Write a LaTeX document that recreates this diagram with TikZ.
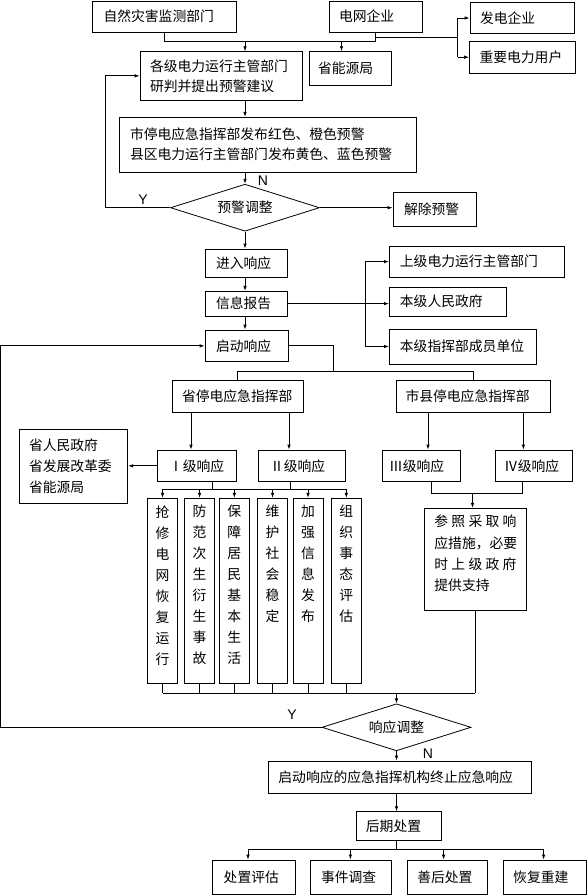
\documentclass[tikz,border=0pt]{standalone}
\usepackage{fontspec}
\setmainfont{Noto Sans CJK SC}
\newfontfamily\lat{Liberation Sans}
\usetikzlibrary{shapes.geometric,arrows.meta}
\newcommand\vtext[1]{\parbox[c][185pt][t]{30pt}{\centering\vspace*{7pt}#1}}
\begin{document}
\begin{tikzpicture}[x=1pt,y=-1pt,
  line width=0.8pt,
  bx/.style={draw, inner ysep=0pt, align=left, font=\fontsize{13.8}{20}\selectfont},
  dm/.style={draw, diamond, aspect=3.2, inner sep=0pt, minimum width=149pt, minimum height=47pt, font=\fontsize{13.8}{20}\selectfont},
  vb/.style={draw, inner sep=0pt, font=\fontsize{13.8}{21}\selectfont},
  arr/.style={-{Latex[length=5pt,width=3.5pt]}},
  yn/.style={font=\lat\fontsize{14}{14}\selectfont, inner sep=0pt}
]
\useasboundingbox (0,0) rectangle (587,895);

% ---------- nodes ----------
\node[bx, text width=121.5pt, inner xsep=11pt, minimum height=31.3pt] (nat) at (164.25,16.65) {自然灾害监测部门};
\node[bx, text width=73pt, inner xsep=10pt, minimum height=31.3pt] (grid) at (375.5,16.65) {电网企业};
\node[bx, text width=84pt, inner xsep=10pt, minimum height=30.6pt] (gen) at (522,18) {发电企业};
\node[bx, text width=86pt, inner xsep=10pt, minimum height=31.7pt] (imp) at (522.5,57.15) {重要电力用户};
\node[bx, text width=142pt, inner xsep=10pt, minimum height=48.3pt] (prov) at (221,75.85) {各级电力运行主管部门\\研判并提出预警建议};
\node[bx, text width=64pt, inner xsep=9pt, minimum height=33.6pt] (ener) at (350,68.5) {省能源局};
\node[bx, text width=275pt, inner xsep=11pt, minimum height=54.7pt] (warn) at (267.5,144.65) {市停电应急指挥部发布红色、橙色预警\\县区电力运行主管部门发布黄色、蓝色预警};
\node[dm] (dia1) at (245,207.7) {预警调整};
\node[bx, text width=61pt, inner xsep=11pt, minimum height=34.4pt] (lift) at (434.5,209.5) {解除预警};
\node[bx, text width=60.5pt, inner xsep=11pt, minimum height=28.3pt] (enter) at (246.25,263.15) {进入响应};
\node[bx, text width=60.5pt, inner xsep=11pt, minimum height=24.7pt] (info) at (246.25,303.65) {信息报告};
\node[bx, text width=61pt, inner xsep=11pt, minimum height=31.7pt] (start) at (246.5,345.85) {启动响应};
\node[bx, text width=154.2pt, inner xsep=10.5pt, minimum height=31.3pt] (sup) at (477,261.65) {上级电力运行主管部门};
\node[bx, text width=95.6pt, inner xsep=10.5pt, minimum height=28.7pt] (gov) at (447.7,301.65) {本级人民政府};
\node[bx, text width=125.6pt, inner xsep=10.5pt, minimum height=35pt] (mem) at (462.7,346.5) {本级指挥部成员单位};
\node[bx, text width=111pt, inner xsep=10pt, minimum height=32.7pt] (pcmd) at (237.5,396.35) {省停电应急指挥部};
\node[bx, text width=135pt, inner xsep=9.5pt, minimum height=32.7pt] (ccmd) at (473,396.35) {市县停电应急指挥部};
\node[bx, text width=55pt, inner xsep=12pt, minimum height=31.7pt] (L1) at (196.5,465.85) {Ⅰ级响应};
\node[bx, text width=63pt, inner xsep=12pt, minimum height=31.7pt] (L2) at (301.5,465.85) {Ⅱ级响应};
\node[bx, text width=64pt, inner xsep=7pt, minimum height=31.7pt] (L3) at (421,465.85) {Ⅲ级响应};
\node[bx, text width=59pt, inner xsep=9pt, minimum height=31.7pt] (L4) at (533.5,465.85) {Ⅳ级响应};
\node[bx, text width=89.2pt, inner xsep=9.5pt, minimum height=74.3pt, font=\fontsize{13.8}{21}\selectfont] (pgov) at (73.6,466.15) {省人民政府\\省发展改革委\\省能源局};

\node[vb] (v1) at (162.5,590.8) {\vtext{抢\\修\\电\\网\\恢\\复\\运\\行}};
\node[vb] (v2) at (199.55,590.8) {\vtext{防\\范\\次\\生\\衍\\生\\事\\故}};
\node[vb] (v3) at (234.35,590.8) {\vtext{保\\障\\居\\民\\基\\本\\生\\活}};
\node[vb] (v4) at (272.55,590.8) {\vtext{维\\护\\社\\会\\稳\\定}};
\node[vb] (v5) at (308,590.8) {\vtext{加\\强\\信\\息\\发\\布}};
\node[vb] (v6) at (346.3,590.8) {\vtext{组\\织\\事\\态\\评\\估}};

\node[vb, inner xsep=10.4pt] (ref) at (475.4,559.15) {\parbox[c][101.7pt][t]{82pt}{\fontsize{13.8}{21.3}\selectfont\vspace*{7pt}\makebox[82pt][s]{参\hfill 照\hfill 采\hfill 取\hfill 响}\\应措施，必要\\\makebox[82pt][s]{时\hfill 上\hfill 级\hfill 政\hfill 府}\\提供支持}};

\node[dm] (dia2) at (396.5,727.3) {响应调整};
\node[bx, text width=243.2pt, inner xsep=10pt, minimum height=32.3pt] (term) at (400,777.15) {启动响应的应急指挥机构终止应急响应};
\node[bx, text width=66.4pt, inner xsep=9.5pt, minimum height=29pt] (post) at (399.1,826.2) {后期处置};
\node[bx, text width=61.1pt, inner xsep=11pt, minimum height=34.3pt] (e1) at (254.25,877.15) {处置评估};
\node[bx, text width=59.2pt, inner xsep=11pt, minimum height=34.3pt] (e2) at (350.6,877.15) {事件调查};
\node[bx, text width=60.5pt, inner xsep=10pt, minimum height=34.3pt] (e3) at (447.55,877.15) {善后处置};
\node[bx, text width=62.8pt, inner xsep=10pt, minimum height=34.3pt] (e4) at (544.6,877.15) {恢复重建};

\node[yn] (n1) at (263,181) {N};
\node[yn] (y1) at (143,199.3) {Y};
\node[yn] (y2) at (292,715) {Y};
\node[yn] (n2) at (428,754) {N};

% ---------- connectors ----------
\coordinate (j1) at (245,41);
\coordinate (j2) at (341.5,41);
\draw (nat.south) -- (nat.south |- j1) -- (grid.south |- j1) -- (grid.south);
\draw[arr] (j1) -- (j1 |- prov.north);
\draw[arr] (j2) -- (j2 |- ener.north);
\coordinate (j3) at (457.5,37.7);
\draw (grid.south |- j3) -- (j3);
\draw (j3 |- gen.west) -- (j3 |- imp.west);
\draw[arr] (j3 |- gen.west) -- (gen.west);
\draw[arr] (j3 |- imp.west) -- (imp.west);

\draw[arr] (j1 |- prov.south) -- (j1 |- warn.north);
\draw[arr] (j1 |- warn.south) -- (dia1.north);
\coordinate (ly) at (105,0);
\draw[arr] (dia1.west) -- (dia1.west -| ly) |- (prov.west);
\draw[arr] (dia1.east) -- (dia1.east -| lift.west);
\draw[arr] (dia1.south) -- (dia1.south |- enter.north);
\draw[arr] (dia1.south |- enter.south) -- (dia1.south |- info.north);
\draw[arr] (dia1.south |- info.south) -- (dia1.south |- start.north);

\coordinate (ib) at (365,0);
\draw[arr] (info.east) -- (info.east -| gov.west);
\draw (ib |- sup.west) -- (ib |- mem.west);
\draw[arr] (ib |- sup.west) -- (sup.west);
\draw[arr] (ib |- mem.west) -- (mem.west);

\coordinate (sb) at (333,371);
\draw (start.east) -| (sb);
\draw (pcmd.north) -- (pcmd.north |- sb) -- (ccmd.north |- sb) -- (ccmd.north);
\coordinate (a1) at (191,0);
\coordinate (a2) at (289,0);
\coordinate (a3) at (428,0);
\coordinate (a4) at (523.4,0);
\draw[arr] (a1 |- pcmd.south) -- (a1 |- L1.north);
\draw[arr] (a2 |- pcmd.south) -- (a2 |- L2.north);
\draw[arr] (a3 |- ccmd.south) -- (a3 |- L3.north);
\draw[arr] (a4 |- ccmd.south) -- (a4 |- L4.north);
\draw[arr] (L1.west) -- (L1.west -| pgov.east);

\coordinate (b1) at (212.6,489.3);
\coordinate (b2) at (290.5,489.3);
\draw (b1 |- L1.south) -- (b1);
\draw (b2 |- L2.south) -- (b2);
\draw (v1.north |- b1) -- (v6.north |- b1);
\foreach \v in {v1,v2,v3,v4,v5,v6} {\draw[arr] (\v.north |- b1) -- (\v.north);}
\coordinate (b3) at (431.7,493.3);
\coordinate (b4) at (522,493.3);
\coordinate (b5) at (472.5,493.3);
\draw (b3 |- L3.south) -- (b3) -- (b4) -- (b4 |- L4.south);
\draw[arr] (b5) -- (b5 |- ref.north);

\coordinate (bb) at (396.5,693.3);
\foreach \v in {v1,v2,v3,v4,v5,v6} {\draw (\v.south) -- (\v.south |- bb);}
\draw (ref.south) -- (ref.south |- bb);
\draw (v1.south |- bb) -- (ref.south |- bb);
\draw[arr] (bb) -- (dia2.north);
\coordinate (lx) at (0.8,0);
\draw[arr] (dia2.west) -- (dia2.west -| lx) |- (start.west);
\draw[arr] (dia2.south) -- (dia2.south |- term.north);
\draw[arr] (dia2.south |- term.south) -- (dia2.south |- post.north);

\coordinate (pb) at (396.5,849.3);
\draw (dia2.south |- post.south) -- (pb);
\coordinate (p1) at (248,849.3);
\coordinate (p2) at (350.4,849.3);
\coordinate (p3) at (443.6,849.3);
\coordinate (p4) at (543.6,849.3);
\draw (p1) -- (p4);
\draw[arr] (p1) -- (p1 |- e1.north);
\draw[arr] (p2) -- (p2 |- e2.north);
\draw[arr] (p3) -- (p3 |- e3.north);
\draw[arr] (p4) -- (p4 |- e4.north);
\end{tikzpicture}
\end{document}
